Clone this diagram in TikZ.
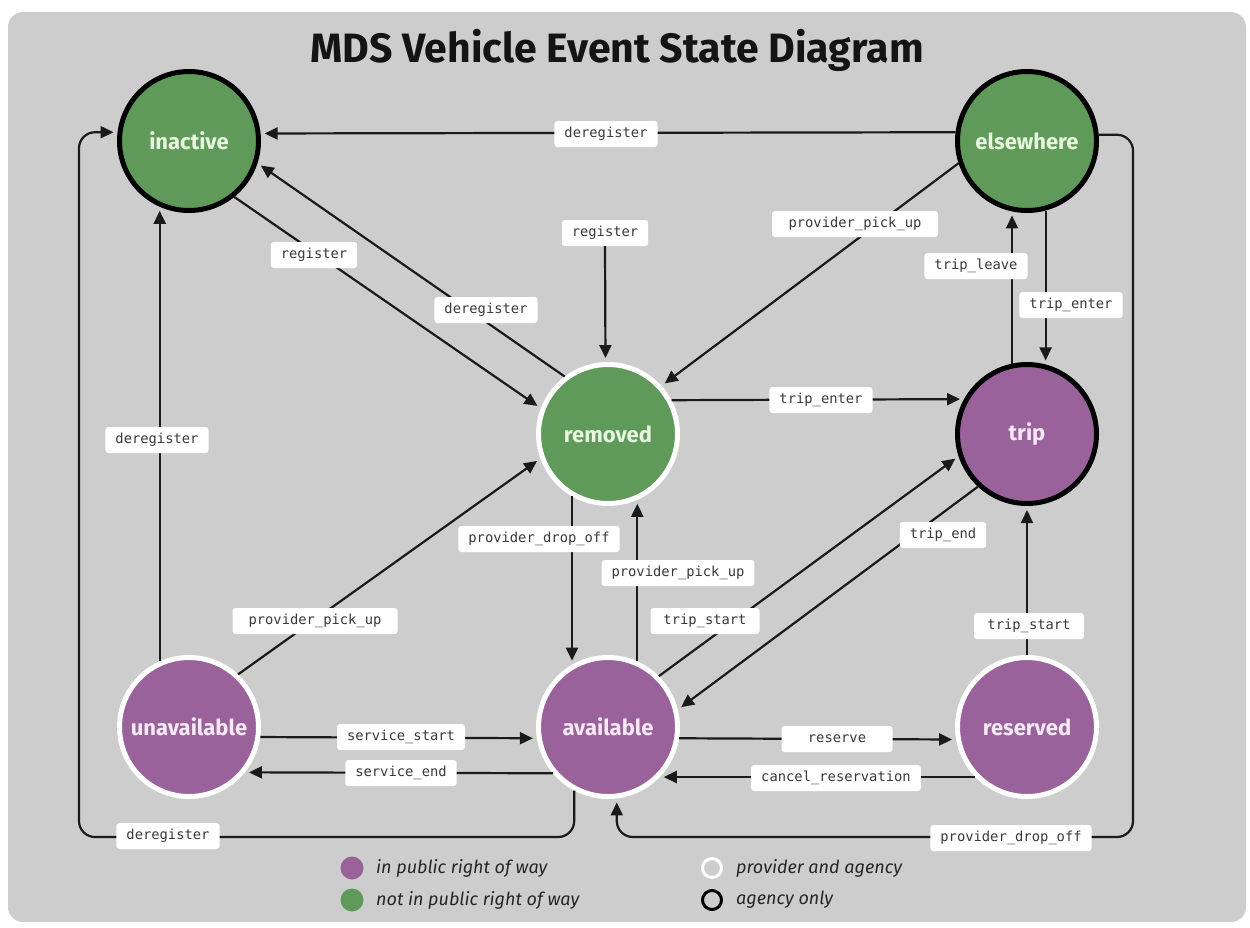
\documentclass[tikz,border=0pt]{standalone}
\usepackage{fontspec}
\setmainfont{Fira Sans}
\newfontfamily\monof{DejaVu Sans Mono}
\usetikzlibrary{arrows.meta}
\definecolor{bggray}{HTML}{CDCDCD}
\definecolor{stgreen}{HTML}{5F9A5B}
\definecolor{stpurple}{HTML}{9A629B}
\definecolor{gtext}{HTML}{E8F6DE}
\definecolor{ptext}{HTML}{F8E8F8}
\definecolor{linec}{HTML}{1A1A1A}
\definecolor{lbltext}{HTML}{3A3A3A}
\definecolor{legtext}{HTML}{262626}
\begin{document}
\begin{tikzpicture}[x=1pt,y=-1pt,
  state/.style={circle, minimum size=139pt, inner sep=0pt, line width=5pt, font=\fontsize{22}{26}\selectfont\bfseries},
  greenst/.style={state, fill=stgreen, text=gtext},
  purplest/.style={state, fill=stpurple, text=ptext},
  agency/.style={draw=black},
  provider/.style={draw=white},
  lbl/.style={fill=white, rounded corners=3pt, font=\monof\fontsize{13.8}{16}\selectfont, text=lbltext, inner xsep=10pt, inner ysep=0pt, minimum height=26pt},
  conn/.style={line width=2.2pt, draw=linec, -{Triangle[length=13pt,width=12pt]}, shorten >=4pt},
  loopconn/.style={conn, rounded corners=16pt},
]
\useasboundingbox (0,0) rectangle (1250,927);
\fill[white] (0,0) rectangle (1250,927);
\fill[bggray, rounded corners=15pt] (8,12) rectangle (1246,922);

\node[font=\fontsize{41}{45}\selectfont\bfseries, text=black!92] (title) at (617,50) {MDS Vehicle Event State Diagram};

% states
\node[greenst, agency] (inactive) at (189,141) {inactive};
\node[greenst, agency] (elsewhere) at (1027,141) {elsewhere};
\node[greenst, provider] (removed) at (608,434) {removed};
\node[purplest, agency] (trip) at (1027,434) {trip};
\node[purplest, provider] (unavailable) at (189,727) {unavailable};
\node[purplest, provider] (available) at (608,727) {available};
\node[purplest, provider] (reserved) at (1027,727) {reserved};

% free label with its own connector
\node[lbl] (lregfree) at (605,233) {register};

% connectors
\draw[conn] (elsewhere.173.6) -- (inactive.6.4);
\draw[loopconn] (elsewhere.5) -| (1133,837) -| (available.-83.6);
\draw[loopconn] (available.-118.2) |- (79,837) |- (inactive.173.6);
\draw[conn] (unavailable.114.6) -- (inactive.-114.6);
\draw[conn] (inactive.-51) -- (removed.159);
\draw[conn] (removed.127) -- (inactive.-18);
\draw[conn] (lregfree.south) -- (removed.92.4);
\draw[conn] (elsewhere.-162.6) -- (removed.42);
\draw[conn] (removed.28.2) -- (trip.151.8);
\draw[conn] (elsewhere.-75.5) -- (trip.75.5);
\draw[conn] (trip.102.8) -- (elsewhere.-102.8);
\draw[conn] (removed.-120.9) -- (available.120.9);
\draw[conn] (available.66.2) -- (removed.-66.2);
\draw[conn] (available.45.5) -- (trip.-162);
\draw[conn] (trip.-133.4) -- (available.14.2);
\draw[conn] (reserved.90) -- (trip.-90);
\draw[conn] (unavailable.47.7) -- (removed.-160);
\draw[conn] (unavailable.-8.8) -- (available.-171.2);
\draw[conn] (available.-140.3) -- (unavailable.-39.7);
\draw[conn] (available.-9.6) -- (reserved.-170.4);
\draw[conn] (reserved.-136) -- (available.-44);

% labels
\node[lbl] (l1) at (606,134) {deregister};
\node[lbl] (l2) at (157,440) {deregister};
\node[lbl] (l3) at (168,836) {deregister};
\node[lbl] (l4) at (314,255) {register};
\node[lbl] (l5) at (486,310) {deregister};
\node[lbl, minimum width=166pt] (l6) at (855,224) {provider\_pick\_up};
\node[lbl] (l7) at (821,400) {trip\_enter};
\node[lbl] (l8) at (1071,305) {trip\_enter};
\node[lbl] (l9) at (976,266) {trip\_leave};
\node[lbl] (l10) at (539,539) {provider\_drop\_off};
\node[lbl] (l11) at (678,573) {provider\_pick\_up};
\node[lbl, minimum width=109pt] (l12) at (705,621) {trip\_start};
\node[lbl] (l13) at (943,535) {trip\_end};
\node[lbl, minimum width=110pt] (l14) at (1029,626) {trip\_start};
\node[lbl, minimum width=165pt] (l15) at (315,621) {provider\_pick\_up};
\node[lbl] (l16) at (401,737) {service\_start};
\node[lbl] (l17) at (401,773) {service\_end};
\node[lbl, minimum width=111pt] (l18) at (837,739) {reserve};
\node[lbl] (l19) at (836,778) {cancel\_reservation};
\node[lbl] (l20) at (1011,838) {provider\_drop\_off};

% legend
\node[circle, fill=stpurple, minimum size=23pt, inner sep=0pt] (legp) at (352,868) {};
\node[circle, fill=stgreen, minimum size=23pt, inner sep=0pt] (legg) at (352,900) {};
\node[circle, draw=white, line width=3pt, minimum size=19pt, inner sep=0pt] (legw) at (712,868) {};
\node[circle, draw=black, line width=3pt, minimum size=19pt, inner sep=0pt] (legb) at (712,900) {};
\node[anchor=west, inner sep=0pt, font=\fontsize{18}{21}\selectfont\itshape, text=legtext] (tp) at (376,868) {in public right of way};
\node[anchor=west, inner sep=0pt, font=\fontsize{18}{21}\selectfont\itshape, text=legtext] (tg) at (376,900) {not in public right of way};
\node[anchor=west, inner sep=0pt, font=\fontsize{18}{21}\selectfont\itshape, text=legtext] (tw) at (736,868) {provider and agency};
\node[anchor=west, inner sep=0pt, font=\fontsize{18}{21}\selectfont\itshape, text=legtext] (tb) at (736,900) {agency only};
\end{tikzpicture}
\end{document}
